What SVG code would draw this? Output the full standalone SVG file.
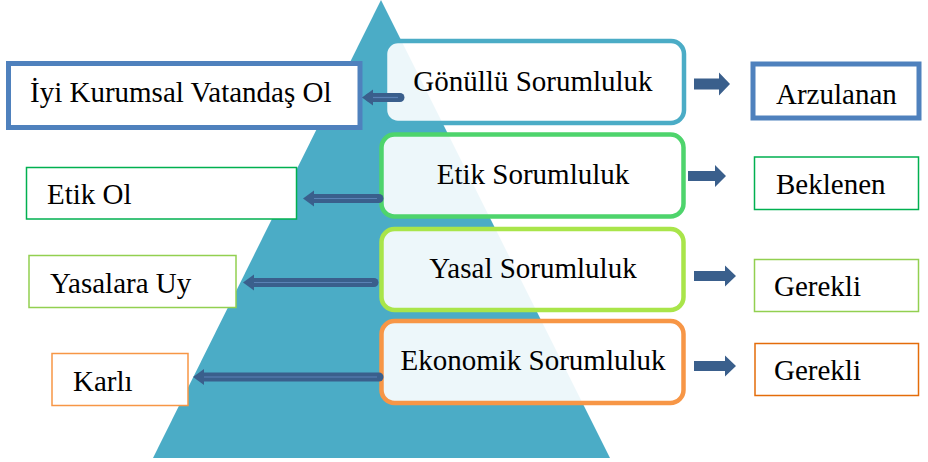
<svg xmlns="http://www.w3.org/2000/svg" width="928" height="462" viewBox="0 0 928 462">
<defs>
<style>
text{font-family:'Liberation Serif','DejaVu Serif',serif;font-size:29px;fill:#000}
.c{text-anchor:middle}
.lvl{fill:#ffffff;fill-opacity:0.9;stroke-width:4.5}
.side{fill:#ffffff}
.shaft{fill:none;stroke:#3a5f8c;stroke-width:9;stroke-linecap:round}
.inner{fill:none;stroke:#5a82b5;stroke-width:1.2}
.head{fill:#3a5f8c}
.blk{fill:#3a5f8c}
</style>
</defs>
<rect width="928" height="462" fill="#ffffff"/>
<polygon id="pyramid" points="381,0 153,458 610,458" fill="#4bacc6"/>

<g id="n-gonullu"><rect class="lvl" x="385" y="41" width="299" height="82" rx="13" stroke="#4bacc6"/><text class="c" x="533" y="91">Gönüllü Sorumluluk</text></g>
<g id="n-etik"><rect class="lvl" x="381.5" y="134.5" width="302" height="82" rx="13" stroke="#4ed46c"/><text class="c" x="533" y="184">Etik Sorumluluk</text></g>
<g id="n-yasal"><rect class="lvl" x="381.5" y="229" width="302" height="81" rx="13" stroke="#a9e54a"/><text class="c" x="533" y="278">Yasal Sorumluluk</text></g>
<g id="n-ekonomik"><rect class="lvl" x="381.5" y="321" width="302" height="82" rx="13" stroke="#f79646"/><text class="c" x="533" y="370">Ekonomik Sorumluluk</text></g>

<g id="n-iyi"><rect class="side" x="8.5" y="63.5" width="351.5" height="64" stroke="#4f81bd" stroke-width="5"/><text x="30" y="102">İyi Kurumsal Vatandaş Ol</text></g>
<g id="n-etikol"><rect class="side" x="26.5" y="167.5" width="270" height="51.5" stroke="#00b050" stroke-width="1.5"/><text x="47" y="204">Etik Ol</text></g>
<g id="n-yasalara"><rect class="side" x="29" y="255.5" width="207" height="52" stroke="#92d050" stroke-width="1.5"/><text x="50" y="293">Yasalara Uy</text></g>
<g id="n-karli"><rect class="side" x="52" y="353.5" width="136" height="52" stroke="#f79646" stroke-width="1.5"/><text x="73" y="391">Karlı</text></g>

<g id="n-arzulanan"><rect class="side" x="753" y="64" width="166" height="54" stroke="#4f81bd" stroke-width="5"/><text x="776" y="104">Arzulanan</text></g>
<g id="n-beklenen"><rect class="side" x="754.5" y="157" width="164" height="52.5" stroke="#00b050" stroke-width="1.5"/><text x="776" y="194">Beklenen</text></g>
<g id="n-gerekli1"><rect class="side" x="754.5" y="259.5" width="164" height="52" stroke="#92d050" stroke-width="1.5"/><text x="774" y="296">Gerekli</text></g>
<g id="n-gerekli2"><rect class="side" x="755" y="343.5" width="163.5" height="52" stroke="#e46c0a" stroke-width="1.5"/><text x="774" y="380">Gerekli</text></g>

<g id="connectors">
<path class="shaft" d="M400,97.5 H370"/>
<path class="inner" d="M398,97.5 H372"/>
<polygon class="head" points="362,97.5 373,89.5 373,105.5"/>
<path class="shaft" d="M379,198.5 H312"/>
<path class="inner" d="M377,198.5 H314"/>
<polygon class="head" points="303,198.5 314,190.5 314,206.5"/>
<path class="shaft" d="M374,282.5 H252"/>
<path class="inner" d="M372,282.5 H254"/>
<polygon class="head" points="243,282.5 254,274.5 254,290.5"/>
<path class="shaft" d="M379,377 H202"/>
<path class="inner" d="M377,377 H204"/>
<polygon class="head" points="193,377 204,369 204,385"/>

<polygon class="blk" points="694,78.5 719,78.5 719,72.5 730,84 719,95.5 719,89.5 694,89.5"/>
<polygon class="blk" points="688,171 715,171 715,165 726,176 715,187 715,181 688,181"/>
<polygon class="blk" points="694,271 725,271 725,265.5 736,276 725,286.5 725,281 694,281"/>
<polygon class="blk" points="694,361 725,361 725,355.5 736,366 725,376.5 725,371 694,371"/>
</g>
</svg>
